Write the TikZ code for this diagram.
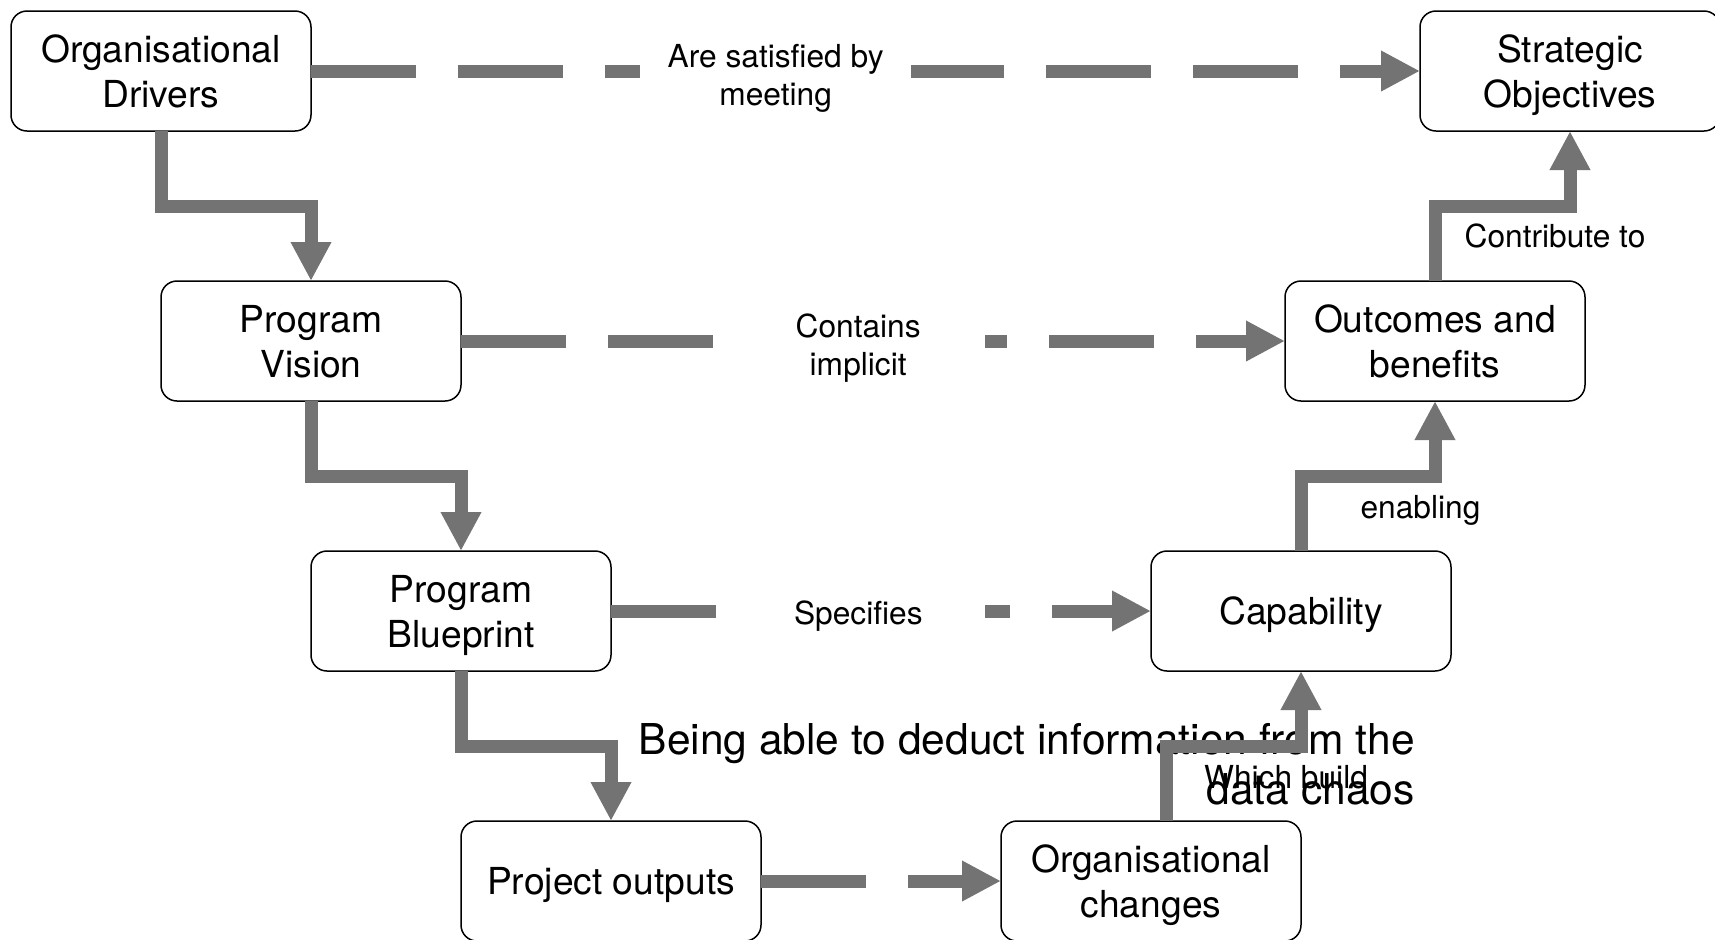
\documentclass[tikz,border=0pt]{standalone}
\usepackage{fontspec}
\setmainfont{TeX Gyre Heros}
\usetikzlibrary{positioning,calc,arrows.meta}
\definecolor{linkgray}{RGB}{115,115,115}

\begin{document}
\begin{tikzpicture}[%
	x=0.5pt,
	y=0.5pt,
	>={Triangle[length=19.5pt,width=19pt]},
	node distance=75pt,
	box/.style={%
		rectangle,
		rounded corners=8pt,
		draw,
		line width=0.75pt,
		outer sep=0pt,
		minimum width=150pt,
		minimum height=60pt,
		align=center,
		text depth=0pt,
		font=\fontsize{18.6}{22.5}\selectfont
	},
	lbl/.style={%
		rectangle,
		inner sep=0pt,
		align=center,
		text depth=0pt,
		font=\fontsize{15.85}{18.7}\selectfont
	},
	cover/.style={%
		lbl,
		fill=white,
		minimum height=10pt
	},
	note/.style={%
		rectangle,
		inner sep=0pt,
		align=right,
		font=\fontsize{21.25}{25}\selectfont
	},
	link/.style={%
		->,
		draw=linkgray,
		line width=6.5pt
	},
	dlink/.style={%
		link,
		dash pattern=on 52.5pt off 21pt
	}
	]
	\useasboundingbox (0,0) rectangle (1715,-939);

	\node[box] (od) at (161,-71) {Organisational\\Drivers};
	\node[box] (pv) [below=of od, xshift=75pt] {Program\\Vision};
	\node[box] (pb) [below=of pv, xshift=75pt] {Program\\Blueprint};
	\node[box] (po) [below=of pb, xshift=75pt] {Project outputs};
	\node[box] (oc) [right=120pt of po] {Organisational\\changes};
	\node[box] (cap) [above=of oc, xshift=75pt] {Capability};
	\node[box] (ob) [above=of cap, xshift=67pt] {Outcomes and\\benefits};
	\node[box] (so) [above=of ob, xshift=67.5pt] {Strategic\\Objectives};

	\node[note, anchor=east] (chaos) at (1415,-764) {Being able to deduct information from the\\data chaos};

	% dashed links along the rows
	\draw[dlink] (od) -- node[cover, pos=0.419, yshift=-1.85pt, minimum width=135.5pt] (lsat) {Are satisfied by\\meeting} (so);
	\draw[dlink] (pv) -- node[cover, pos=0.482, yshift=-1.75pt, minimum width=127pt] (lcont) {Contains\\implicit} (ob);
	\draw[dlink] (pb) -- node[cover, pos=0.458, yshift=-1pt, minimum width=127pt] (lspec) {Specifies} (cap);
	\draw[dlink] (po) -- (oc);

	% going down on the left
	\draw[link] (od) |- ($(od.south)!.5!(pv.north)$) -| (pv);
	\draw[link] (pv) |- ($(pv.south)!.5!(pb.north)$) -| (pb);
	\draw[link] (pb) |- ($(pb.south)!.5!(po.north)$) -| (po);

	% going up on the right
	\draw[link] ([xshift=7.75pt]oc.north) |- ($(oc.north)!.5!(cap.south)$) -| (cap);
	\draw[link] (cap) |- ($(cap.north)!.5!(ob.south)$) -| (ob);
	\draw[link] (ob) |- ($(ob.north)!.5!(so.south)$) -| (so);

	\node[lbl] (lwhich) at ($(oc.north)+(67.5pt,22pt)$) {Which build};
	\node[lbl] (lenable) at ($(cap.north)+(59.75pt,22pt)$) {enabling};
	\node[lbl] (lcontrib) at ($(ob.north)+(60pt,22.5pt)$) {Contribute to};
\end{tikzpicture}
\end{document}
